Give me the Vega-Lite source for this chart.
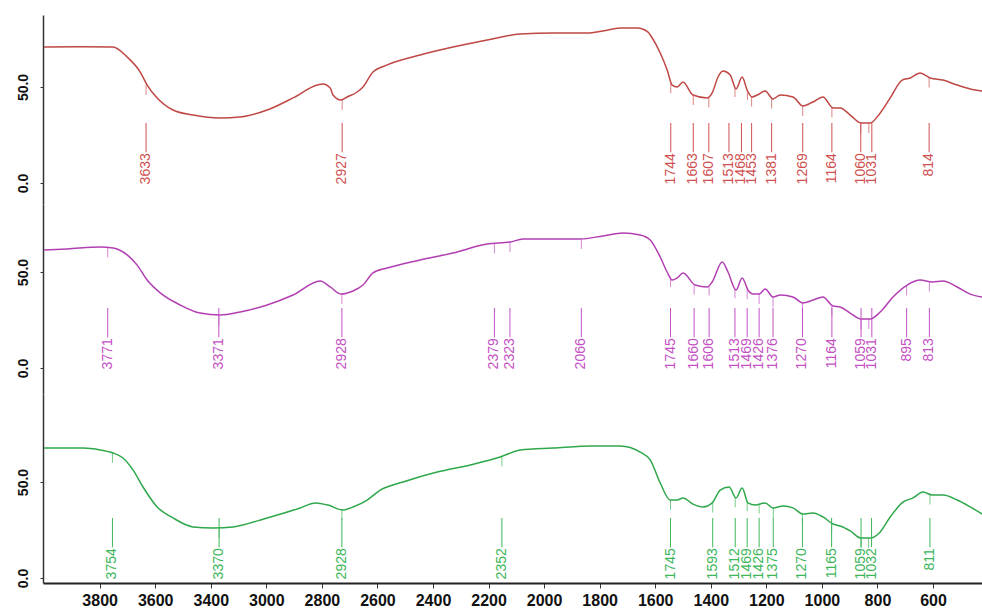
{
  "$schema": "https://vega.github.io/schema/vega-lite/v6.json",
  "background": "white",
  "padding": {"left": 0, "top": 15, "right": 0, "bottom": 0},
  "spacing": 0,
  "config": {
    "view": {"stroke": null},
    "font": "Liberation Sans",
    "axis": {"grid": false}
  },
  "resolve": {"scale": {"x": "independent", "y": "independent"}},
  "datasets": {
    "spectrumA": [
      {"wn": 4000, "t": 70.8}, {"wn": 3870, "t": 70.9}, {"wn": 3752, "t": 70.8}, {"wn": 3701, "t": 65.6},
      {"wn": 3654, "t": 57.8}, {"wn": 3629, "t": 51.0}, {"wn": 3593, "t": 44.3}, {"wn": 3536, "t": 38.0},
      {"wn": 3464, "t": 35.4}, {"wn": 3366, "t": 33.9}, {"wn": 3294, "t": 34.4}, {"wn": 3197, "t": 38.0},
      {"wn": 3104, "t": 44.3}, {"wn": 3017, "t": 51.0}, {"wn": 2996, "t": 51.6}, {"wn": 2970, "t": 49.5},
      {"wn": 2960, "t": 45.8}, {"wn": 2931, "t": 43.2}, {"wn": 2909, "t": 44.8}, {"wn": 2873, "t": 47.4},
      {"wn": 2852, "t": 50.0}, {"wn": 2816, "t": 57.8}, {"wn": 2765, "t": 61.5}, {"wn": 2646, "t": 66.7},
      {"wn": 2528, "t": 70.8}, {"wn": 2405, "t": 74.5}, {"wn": 2286, "t": 77.6}, {"wn": 2168, "t": 78.1},
      {"wn": 2045, "t": 78.1}, {"wn": 1988, "t": 79.2}, {"wn": 1926, "t": 80.7}, {"wn": 1865, "t": 80.7},
      {"wn": 1826, "t": 78.6}, {"wn": 1818, "t": 77.1}, {"wn": 1782, "t": 67.7}, {"wn": 1757, "t": 58.9},
      {"wn": 1739, "t": 51.0}, {"wn": 1721, "t": 50.0}, {"wn": 1700, "t": 52.6}, {"wn": 1664, "t": 45.8},
      {"wn": 1613, "t": 44.3}, {"wn": 1595, "t": 46.9}, {"wn": 1574, "t": 55.2}, {"wn": 1556, "t": 58.3},
      {"wn": 1530, "t": 56.3}, {"wn": 1509, "t": 49.0}, {"wn": 1487, "t": 55.2}, {"wn": 1469, "t": 48.4},
      {"wn": 1451, "t": 44.8}, {"wn": 1433, "t": 45.8}, {"wn": 1404, "t": 47.9}, {"wn": 1376, "t": 43.8},
      {"wn": 1350, "t": 45.8}, {"wn": 1304, "t": 44.8}, {"wn": 1268, "t": 40.1}, {"wn": 1232, "t": 42.2},
      {"wn": 1196, "t": 44.8}, {"wn": 1160, "t": 39.1}, {"wn": 1134, "t": 39.1}, {"wn": 1098, "t": 35.4},
      {"wn": 1059, "t": 31.3}, {"wn": 1026, "t": 31.3}, {"wn": 990, "t": 36.5}, {"wn": 954, "t": 44.3},
      {"wn": 911, "t": 53.6}, {"wn": 882, "t": 54.7}, {"wn": 846, "t": 57.3}, {"wn": 810, "t": 54.7},
      {"wn": 764, "t": 53.6}, {"wn": 713, "t": 51.0}, {"wn": 666, "t": 49.0}, {"wn": 623, "t": 47.9}
    ],
    "spectrumB": [
      {"wn": 4000, "t": 61.5}, {"wn": 3917, "t": 62.0}, {"wn": 3798, "t": 63.0}, {"wn": 3752, "t": 62.5},
      {"wn": 3701, "t": 58.9}, {"wn": 3665, "t": 53.6}, {"wn": 3629, "t": 45.8}, {"wn": 3582, "t": 39.1},
      {"wn": 3510, "t": 32.8}, {"wn": 3438, "t": 28.6}, {"wn": 3366, "t": 27.6}, {"wn": 3294, "t": 29.2},
      {"wn": 3197, "t": 32.8}, {"wn": 3104, "t": 38.0}, {"wn": 3006, "t": 45.3}, {"wn": 2970, "t": 42.2},
      {"wn": 2931, "t": 38.5}, {"wn": 2888, "t": 40.1}, {"wn": 2852, "t": 43.2}, {"wn": 2816, "t": 49.5},
      {"wn": 2765, "t": 52.1}, {"wn": 2646, "t": 56.3}, {"wn": 2528, "t": 59.9}, {"wn": 2405, "t": 64.6},
      {"wn": 2322, "t": 65.6}, {"wn": 2276, "t": 67.2}, {"wn": 2168, "t": 67.2}, {"wn": 2070, "t": 67.2},
      {"wn": 1988, "t": 68.8}, {"wn": 1916, "t": 70.3}, {"wn": 1854, "t": 69.3}, {"wn": 1818, "t": 66.7},
      {"wn": 1782, "t": 57.8}, {"wn": 1757, "t": 50.0}, {"wn": 1739, "t": 45.8}, {"wn": 1721, "t": 46.9},
      {"wn": 1700, "t": 49.5}, {"wn": 1656, "t": 43.2}, {"wn": 1613, "t": 42.2}, {"wn": 1595, "t": 44.8},
      {"wn": 1559, "t": 55.2}, {"wn": 1538, "t": 50.0}, {"wn": 1509, "t": 40.6}, {"wn": 1487, "t": 46.9},
      {"wn": 1466, "t": 40.6}, {"wn": 1448, "t": 38.5}, {"wn": 1426, "t": 38.5}, {"wn": 1404, "t": 41.1},
      {"wn": 1376, "t": 37.0}, {"wn": 1350, "t": 38.0}, {"wn": 1304, "t": 37.0}, {"wn": 1268, "t": 33.9},
      {"wn": 1232, "t": 35.4}, {"wn": 1196, "t": 37.0}, {"wn": 1160, "t": 32.3}, {"wn": 1134, "t": 31.8},
      {"wn": 1098, "t": 28.6}, {"wn": 1059, "t": 25.5}, {"wn": 1026, "t": 25.5}, {"wn": 990, "t": 29.2},
      {"wn": 944, "t": 37.0}, {"wn": 893, "t": 43.2}, {"wn": 846, "t": 45.8}, {"wn": 803, "t": 44.8},
      {"wn": 764, "t": 45.3}, {"wn": 713, "t": 42.2}, {"wn": 666, "t": 38.5}, {"wn": 623, "t": 37.0}
    ],
    "spectrumC": [
      {"wn": 4000, "t": 67.7}, {"wn": 3860, "t": 67.7}, {"wn": 3798, "t": 66.7}, {"wn": 3752, "t": 65.1},
      {"wn": 3716, "t": 62.5}, {"wn": 3680, "t": 56.3}, {"wn": 3644, "t": 47.4}, {"wn": 3593, "t": 37.0},
      {"wn": 3536, "t": 31.3}, {"wn": 3464, "t": 26.6}, {"wn": 3392, "t": 26.0}, {"wn": 3320, "t": 26.6},
      {"wn": 3197, "t": 31.3}, {"wn": 3078, "t": 36.5}, {"wn": 3024, "t": 39.1}, {"wn": 2978, "t": 38.0},
      {"wn": 2924, "t": 35.4}, {"wn": 2888, "t": 37.0}, {"wn": 2837, "t": 40.6}, {"wn": 2790, "t": 45.8},
      {"wn": 2708, "t": 50.0}, {"wn": 2585, "t": 55.2}, {"wn": 2466, "t": 58.9}, {"wn": 2358, "t": 63.0},
      {"wn": 2286, "t": 66.7}, {"wn": 2168, "t": 67.7}, {"wn": 2024, "t": 68.8}, {"wn": 1926, "t": 68.8},
      {"wn": 1854, "t": 65.6}, {"wn": 1818, "t": 61.5}, {"wn": 1782, "t": 49.5}, {"wn": 1746, "t": 40.6},
      {"wn": 1721, "t": 40.6}, {"wn": 1700, "t": 41.7}, {"wn": 1664, "t": 38.5}, {"wn": 1628, "t": 37.0},
      {"wn": 1595, "t": 39.1}, {"wn": 1566, "t": 45.8}, {"wn": 1534, "t": 47.4}, {"wn": 1509, "t": 41.7},
      {"wn": 1487, "t": 46.9}, {"wn": 1466, "t": 39.1}, {"wn": 1440, "t": 38.0}, {"wn": 1404, "t": 39.1},
      {"wn": 1376, "t": 36.5}, {"wn": 1340, "t": 37.5}, {"wn": 1304, "t": 36.5}, {"wn": 1268, "t": 33.3},
      {"wn": 1232, "t": 33.9}, {"wn": 1196, "t": 31.8}, {"wn": 1160, "t": 28.1}, {"wn": 1134, "t": 27.1},
      {"wn": 1098, "t": 24.5}, {"wn": 1059, "t": 20.8}, {"wn": 1026, "t": 20.8}, {"wn": 990, "t": 24.0},
      {"wn": 954, "t": 31.8}, {"wn": 907, "t": 39.6}, {"wn": 872, "t": 41.7}, {"wn": 836, "t": 44.8},
      {"wn": 803, "t": 43.2}, {"wn": 764, "t": 43.2}, {"wn": 713, "t": 40.6}, {"wn": 666, "t": 37.0},
      {"wn": 623, "t": 33.3}
    ],
    "peaksA": [
      {"wn": 3633, "t": 51.0}, {"wn": 2927, "t": 43.2}, {"wn": 1744, "t": 52.0}, {"wn": 1663, "t": 45.8},
      {"wn": 1607, "t": 44.5}, {"wn": 1513, "t": 50.0}, {"wn": 1468, "t": 48.4}, {"wn": 1453, "t": 45.0},
      {"wn": 1381, "t": 44.0}, {"wn": 1269, "t": 40.1}, {"wn": 1164, "t": 39.5}, {"wn": 1060, "t": 31.3},
      {"wn": 1031, "t": 31.3}, {"wn": 814, "t": 55.0}
    ],
    "peaksB": [
      {"wn": 3771, "t": 62.7}, {"wn": 3371, "t": 27.6}, {"wn": 2928, "t": 38.5}, {"wn": 2379, "t": 64.9},
      {"wn": 2323, "t": 65.6}, {"wn": 2066, "t": 67.2}, {"wn": 1745, "t": 47.5}, {"wn": 1660, "t": 43.5},
      {"wn": 1606, "t": 43.0}, {"wn": 1513, "t": 41.5}, {"wn": 1469, "t": 41.0}, {"wn": 1426, "t": 38.5},
      {"wn": 1376, "t": 37.0}, {"wn": 1270, "t": 34.0}, {"wn": 1164, "t": 32.5}, {"wn": 1059, "t": 25.5},
      {"wn": 1031, "t": 25.5}, {"wn": 895, "t": 43.0}, {"wn": 813, "t": 45.0}
    ],
    "peaksC": [
      {"wn": 3754, "t": 65.2}, {"wn": 3370, "t": 26.2}, {"wn": 2928, "t": 35.5}, {"wn": 2352, "t": 63.3},
      {"wn": 1745, "t": 40.6}, {"wn": 1593, "t": 39.3}, {"wn": 1512, "t": 42.0}, {"wn": 1469, "t": 40.0},
      {"wn": 1426, "t": 38.8}, {"wn": 1375, "t": 36.5}, {"wn": 1270, "t": 33.3}, {"wn": 1165, "t": 28.5},
      {"wn": 1059, "t": 20.8}, {"wn": 1032, "t": 20.8}, {"wn": 811, "t": 43.5}
    ]
  },
  "vconcat": [
    {
      "width": 940,
      "height": 189,
      "layer": [
        {
          "data": {"name": "spectrumA"},
          "mark": {"type": "line", "color": "#bf4744", "strokeWidth": 1.5, "interpolate": "monotone", "clip": true},
          "encoding": {
            "x": {"field": "wn", "type": "quantitative", "scale": {"domain": [620, 4004], "reverse": true, "nice": false, "zero": false}, "axis": null},
            "y": {"field": "t", "type": "quantitative", "scale": {"domain": [-10.94, 87.5], "nice": false, "zero": false},
                  "axis": {"values": [0, 50], "format": ".1f", "title": null, "labelAngle": 270, "labelAlign": "center", "labelBaseline": "bottom",
                           "labelFontWeight": "bold", "labelFontSize": 14, "labelColor": "#111", "labelPadding": 10, "tickSize": 3,
                           "tickColor": "#333", "domainColor": "#333", "domainWidth": 1.5, "minExtent": 43, "maxExtent": 43}}
          }
        },
        {
          "data": {"name": "peaksA"},
          "mark": {"type": "tick", "orient": "vertical", "size": 10, "thickness": 1, "yOffset": 5, "color": "#cf5050"},
          "encoding": {"x": {"field": "wn", "type": "quantitative"}, "y": {"field": "t", "type": "quantitative"}}
        },
        {
          "data": {"name": "peaksA"},
          "transform": [{"filter": "indexof([1513, 1468, 1031], datum.wn) < 0"}],
          "mark": {"type": "rule", "color": "#cf5050", "strokeWidth": 1},
          "encoding": {"x": {"field": "wn", "type": "quantitative"}, "y": {"datum": 31.25}, "y2": {"datum": 16}}
        },
        {
          "data": {"name": "peaksA"},
          "transform": [{"filter": "indexof([1513, 1468, 1031], datum.wn) < 0"}],
          "mark": {"type": "text", "color": "#cf5050", "angle": 270, "align": "right", "baseline": "middle", "fontSize": 14},
          "encoding": {"x": {"field": "wn", "type": "quantitative"}, "y": {"datum": 15.5}, "text": {"field": "wn", "type": "quantitative", "format": "d"}}
        },
        {
          "data": {"name": "peaksA"},
          "transform": [{"filter": "indexof([1513, 1468], datum.wn) >= 0"}],
          "mark": {"type": "rule", "color": "#cf5050", "strokeWidth": 1, "xOffset": -6},
          "encoding": {"x": {"field": "wn", "type": "quantitative"}, "y": {"datum": 31.25}, "y2": {"datum": 16}}
        },
        {
          "data": {"name": "peaksA"},
          "transform": [{"filter": "indexof([1513, 1468], datum.wn) >= 0"}],
          "mark": {"type": "text", "color": "#cf5050", "angle": 270, "align": "right", "baseline": "middle", "fontSize": 14, "xOffset": -6},
          "encoding": {"x": {"field": "wn", "type": "quantitative"}, "y": {"datum": 15.5}, "text": {"field": "wn", "type": "quantitative", "format": "d"}}
        },
        {
          "data": {"name": "peaksA"},
          "transform": [{"filter": "datum.wn == 1031"}],
          "mark": {"type": "rule", "color": "#cf5050", "strokeWidth": 1, "xOffset": 3},
          "encoding": {"x": {"field": "wn", "type": "quantitative"}, "y": {"datum": 31.25}, "y2": {"datum": 16}}
        },
        {
          "data": {"name": "peaksA"},
          "transform": [{"filter": "datum.wn == 1031"}],
          "mark": {"type": "text", "color": "#cf5050", "angle": 270, "align": "right", "baseline": "middle", "fontSize": 14, "xOffset": 3},
          "encoding": {"x": {"field": "wn", "type": "quantitative"}, "y": {"datum": 15.5}, "text": {"field": "wn", "type": "quantitative", "format": "d"}}
        },
        {
          "mark": {"type": "text", "font": "Liberation Serif", "fontWeight": "bold", "fontSize": 24, "color": "#111", "align": "center", "baseline": "middle"},
          "encoding": {"x": {"datum": 3836}, "y": {"datum": 49.5}, "text": {"value": "(A)"}}
        }
      ]
    },
    {
      "width": 940,
      "height": 190,
      "layer": [
        {
          "data": {"name": "spectrumB"},
          "mark": {"type": "line", "color": "#b23fb2", "strokeWidth": 1.5, "interpolate": "monotone", "clip": true},
          "encoding": {
            "x": {"field": "wn", "type": "quantitative", "scale": {"domain": [620, 4004], "reverse": true, "nice": false, "zero": false}, "axis": null},
            "y": {"field": "t", "type": "quantitative", "scale": {"domain": [-13.54, 85.42], "nice": false, "zero": false},
                  "axis": {"values": [0, 50], "format": ".1f", "title": null, "labelAngle": 270, "labelAlign": "center", "labelBaseline": "bottom",
                           "labelFontWeight": "bold", "labelFontSize": 14, "labelColor": "#111", "labelPadding": 10, "tickSize": 3,
                           "tickColor": "#333", "domainColor": "#333", "domainWidth": 1.5, "minExtent": 43, "maxExtent": 43}}
          }
        },
        {
          "data": {"name": "peaksB"},
          "mark": {"type": "tick", "orient": "vertical", "size": 10, "thickness": 1, "yOffset": 5, "color": "#c450c4"},
          "encoding": {"x": {"field": "wn", "type": "quantitative"}, "y": {"field": "t", "type": "quantitative"}}
        },
        {
          "data": {"name": "peaksB"},
          "transform": [{"filter": "datum.wn != 1031"}],
          "mark": {"type": "rule", "color": "#c450c4", "strokeWidth": 1},
          "encoding": {"x": {"field": "wn", "type": "quantitative"}, "y": {"datum": 31.25}, "y2": {"datum": 16}}
        },
        {
          "data": {"name": "peaksB"},
          "transform": [{"filter": "datum.wn != 1031"}],
          "mark": {"type": "text", "color": "#c450c4", "angle": 270, "align": "right", "baseline": "middle", "fontSize": 14},
          "encoding": {"x": {"field": "wn", "type": "quantitative"}, "y": {"datum": 15.5}, "text": {"field": "wn", "type": "quantitative", "format": "d"}}
        },
        {
          "data": {"name": "peaksB"},
          "transform": [{"filter": "datum.wn == 1031"}],
          "mark": {"type": "rule", "color": "#c450c4", "strokeWidth": 1, "xOffset": 3},
          "encoding": {"x": {"field": "wn", "type": "quantitative"}, "y": {"datum": 31.25}, "y2": {"datum": 16}}
        },
        {
          "data": {"name": "peaksB"},
          "transform": [{"filter": "datum.wn == 1031"}],
          "mark": {"type": "text", "color": "#c450c4", "angle": 270, "align": "right", "baseline": "middle", "fontSize": 14, "xOffset": 3},
          "encoding": {"x": {"field": "wn", "type": "quantitative"}, "y": {"datum": 15.5}, "text": {"field": "wn", "type": "quantitative", "format": "d"}}
        },
        {
          "mark": {"type": "text", "font": "Liberation Serif", "fontWeight": "bold", "fontSize": 24, "color": "#111", "align": "center", "baseline": "middle"},
          "encoding": {"x": {"datum": 3840}, "y": {"datum": 42.2}, "text": {"value": "(B)"}}
        }
      ]
    },
    {
      "width": 940,
      "height": 189,
      "layer": [
        {
          "data": {"name": "spectrumC"},
          "mark": {"type": "line", "color": "#2fa84c", "strokeWidth": 1.5, "interpolate": "monotone", "clip": true},
          "encoding": {
            "x": {"field": "wn", "type": "quantitative", "scale": {"domain": [620, 4004], "reverse": true, "nice": false, "zero": false},
                  "axis": {"values": [3800, 3600, 3400, 3200, 3000, 2800, 2600, 2400, 2200, 2000, 1800, 1600, 1400, 1200, 1000, 800],
                           "labelExpr": "datum.value > 3300 ? format(datum.value, 'd') : format(datum.value - 200, 'd')",
                           "title": null, "labelFontWeight": "bold", "labelFontSize": 16, "labelColor": "#111", "labelPadding": 4,
                           "tickSize": 5, "tickColor": "#333", "domainColor": "#222", "domainWidth": 2}},
            "y": {"field": "t", "type": "quantitative", "scale": {"domain": [-2.6, 95.83], "nice": false, "zero": false},
                  "axis": {"values": [0, 50], "format": ".1f", "title": null, "labelAngle": 270, "labelAlign": "center", "labelBaseline": "bottom",
                           "labelFontWeight": "bold", "labelFontSize": 14, "labelColor": "#111", "labelPadding": 10, "tickSize": 3,
                           "tickColor": "#333", "domainColor": "#333", "domainWidth": 1.5, "minExtent": 43, "maxExtent": 43}}
          }
        },
        {
          "data": {"name": "peaksC"},
          "mark": {"type": "tick", "orient": "vertical", "size": 10, "thickness": 1, "yOffset": 5, "color": "#3db65a"},
          "encoding": {"x": {"field": "wn", "type": "quantitative"}, "y": {"field": "t", "type": "quantitative"}}
        },
        {
          "data": {"name": "peaksC"},
          "transform": [{"filter": "datum.wn != 1032"}],
          "mark": {"type": "rule", "color": "#3db65a", "strokeWidth": 1},
          "encoding": {"x": {"field": "wn", "type": "quantitative"}, "y": {"datum": 31.25}, "y2": {"datum": 16}}
        },
        {
          "data": {"name": "peaksC"},
          "transform": [{"filter": "datum.wn != 1032"}],
          "mark": {"type": "text", "color": "#3db65a", "angle": 270, "align": "right", "baseline": "middle", "fontSize": 14},
          "encoding": {"x": {"field": "wn", "type": "quantitative"}, "y": {"datum": 15.5}, "text": {"field": "wn", "type": "quantitative", "format": "d"}}
        },
        {
          "data": {"name": "peaksC"},
          "transform": [{"filter": "datum.wn == 1032"}],
          "mark": {"type": "rule", "color": "#3db65a", "strokeWidth": 1, "xOffset": 3},
          "encoding": {"x": {"field": "wn", "type": "quantitative"}, "y": {"datum": 31.25}, "y2": {"datum": 16}}
        },
        {
          "data": {"name": "peaksC"},
          "transform": [{"filter": "datum.wn == 1032"}],
          "mark": {"type": "text", "color": "#3db65a", "angle": 270, "align": "right", "baseline": "middle", "fontSize": 14, "xOffset": 3},
          "encoding": {"x": {"field": "wn", "type": "quantitative"}, "y": {"datum": 15.5}, "text": {"field": "wn", "type": "quantitative", "format": "d"}}
        },
        {
          "mark": {"type": "text", "font": "Liberation Serif", "fontWeight": "bold", "fontSize": 24, "color": "#111", "align": "center", "baseline": "middle"},
          "encoding": {"x": {"datum": 3865}, "y": {"datum": 47.9}, "text": {"value": "(C)"}}
        }
      ]
    }
  ]
}
